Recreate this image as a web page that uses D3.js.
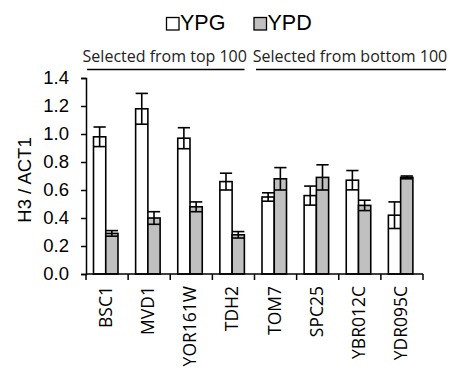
<!DOCTYPE html>
<html>
<head>
<meta charset="utf-8">
<script src="https://cdn.jsdelivr.net/npm/d3@7"></script>
<style>
  body { margin: 0; background: white; }
  svg { display: block; }
</style>
</head>
<body>
<script>
// values
const categories = ['BSC1', 'MVD1', 'YOR161W', 'TDH2', 'TOM7', 'SPC25', 'YBR012C', 'YDR095C'];
const seriesNames = ['YPG', 'YPD'];
const ypg = [0.98, 1.18, 0.97, 0.66, 0.55, 0.56, 0.67, 0.42];
const ypgErr = [0.07, 0.11, 0.075, 0.06, 0.03, 0.068, 0.069, 0.095];
const ypd = [0.29, 0.40, 0.48, 0.28, 0.68, 0.69, 0.49, 0.69];
const ypdErr = [0.02, 0.045, 0.035, 0.023, 0.08, 0.09, 0.037, 0.01];
const yTicks = [0, 0.2, 0.4, 0.6, 0.8, 1.0, 1.2, 1.4];
const groups = [
  { label: 'Selected from top 100', from: 0, to: 4 },
  { label: 'Selected from bottom 100', from: 4, to: 8 },
];

const width = 453;
const height = 377;
const colors = { YPG: '#ffffff', YPD: '#c0c0c0' };
const arial = 'Liberation Sans, Arial, Helvetica, sans-serif';
const sans = 'Open Sans, Noto Sans, sans-serif';

const svg = d3.select('body').append('svg')
  .attr('width', width)
  .attr('height', height)
  .attr('viewBox', [0, 0, width, height]);

svg.append('rect').attr('width', width).attr('height', height).attr('fill', 'white');

const x = d3.scaleBand().domain(categories).range([86, 423]).padding(0);
const xs = d3.scaleBand().domain(seriesNames).range([7.5, 32]).padding(0);
const y = d3.scaleLinear().domain([0, 1.4]).range([274, 78]);

const rows = categories.map((c, i) => ({
  cat: c,
  vals: [
    { s: 'YPG', v: ypg[i], e: ypgErr[i] },
    { s: 'YPD', v: ypd[i], e: ypdErr[i] },
  ],
}));

// y axis
const yAxis = svg.append('g')
  .attr('transform', `translate(${x.range()[0]},0)`)
  .call(d3.axisLeft(y).tickValues(yTicks).tickFormat(d3.format('.1f')).tickSize(5).tickPadding(12));
yAxis.selectAll('path, line').attr('stroke', '#000').attr('stroke-width', 1.5);
yAxis.selectAll('text')
  .attr('font-family', arial)
  .attr('font-size', 18.5)
  .attr('fill', '#000');

svg.append('text')
  .attr('transform', `translate(31,${(y(0) + y(1.4)) / 2 + 4}) rotate(-90)`)
  .attr('text-anchor', 'middle')
  .attr('font-family', arial)
  .attr('font-size', 18.5)
  .attr('fill', '#000')
  .text('H3 / ACT1');

// bars
const g = svg.append('g')
  .selectAll('g')
  .data(rows)
  .join('g')
  .attr('transform', (d) => `translate(${x(d.cat)},0)`);

g.selectAll('rect')
  .data((d) => d.vals)
  .join('rect')
  .attr('x', (d) => xs(d.s))
  .attr('width', xs.bandwidth())
  .attr('y', (d) => y(d.v))
  .attr('height', (d) => y(0) - y(d.v))
  .attr('fill', (d) => colors[d.s])
  .attr('stroke', '#000')
  .attr('stroke-width', 1.6);

// error bars
const err = g.selectAll('g.err')
  .data((d) => d.vals)
  .join('g')
  .attr('class', 'err')
  .attr('stroke', '#000')
  .attr('stroke-width', 1.6);

err.append('line')
  .attr('x1', (d) => xs(d.s) + xs.bandwidth() / 2)
  .attr('x2', (d) => xs(d.s) + xs.bandwidth() / 2)
  .attr('y1', (d) => y(d.v + d.e))
  .attr('y2', (d) => y(d.v - d.e));

err.selectAll('line.cap')
  .data((d) => [{ s: d.s, yy: d.v + d.e }, { s: d.s, yy: d.v - d.e }])
  .join('line')
  .attr('class', 'cap')
  .attr('x1', (d) => xs(d.s))
  .attr('x2', (d) => xs(d.s) + xs.bandwidth())
  .attr('y1', (d) => y(d.yy))
  .attr('y2', (d) => y(d.yy));

// x axis with ticks at category boundaries
const xAxis = svg.append('g').attr('stroke', '#000').attr('stroke-width', 1.5);
xAxis.append('line')
  .attr('x1', x.range()[0])
  .attr('x2', x.range()[1])
  .attr('y1', y(0))
  .attr('y2', y(0));
xAxis.selectAll('line.tick')
  .data(d3.range(categories.length + 1))
  .join('line')
  .attr('class', 'tick')
  .attr('x1', (i) => x.range()[0] + i * x.step())
  .attr('x2', (i) => x.range()[0] + i * x.step())
  .attr('y1', y(0))
  .attr('y2', y(0) + 6);

svg.append('g')
  .selectAll('text')
  .data(categories)
  .join('text')
  .attr('transform', (d) => `translate(${x(d) + x.bandwidth() / 2 + 5},${y(0) + 12}) rotate(-90)`)
  .attr('text-anchor', 'end')
  .attr('font-family', sans)
  .attr('font-size', 17.5)
  .attr('fill', '#000')
  .text((d) => d);

// group annotations
const grp = svg.append('g')
  .selectAll('g')
  .data(groups)
  .join('g');

const gx0 = (d) => x(categories[d.from]) + (d.from === 0 ? 1 : 1.5);
const gx1 = (d) => d.to === categories.length ? x.range()[1] + 23 : x(categories[d.to]) - 10;

grp.append('line')
  .attr('x1', gx0)
  .attr('x2', gx1)
  .attr('y1', 69.5)
  .attr('y2', 69.5)
  .attr('stroke', '#000')
  .attr('stroke-width', 1.3);

grp.append('text')
  .attr('x', (d) => (gx0(d) + gx1(d)) / 2 - 1)
  .attr('y', 61.5)
  .attr('text-anchor', 'middle')
  .attr('font-family', sans)
  .attr('font-size', 16)
  .attr('fill', '#222')
  .text((d) => d.label);

// legend
const legendX = [166.5, 254];
const legend = svg.append('g')
  .selectAll('g')
  .data(seriesNames)
  .join('g')
  .attr('transform', (d, i) => `translate(${legendX[i]},17.5)`);

legend.append('rect')
  .attr('width', 12.5)
  .attr('height', 12.5)
  .attr('fill', (d) => colors[d])
  .attr('stroke', '#000')
  .attr('stroke-width', 1.3);

legend.append('text')
  .attr('x', 13.5)
  .attr('y', 12.8)
  .attr('font-family', arial)
  .attr('font-size', 21.5)
  .attr('fill', '#000')
  .text((d) => d);
</script>
</body>
</html>
